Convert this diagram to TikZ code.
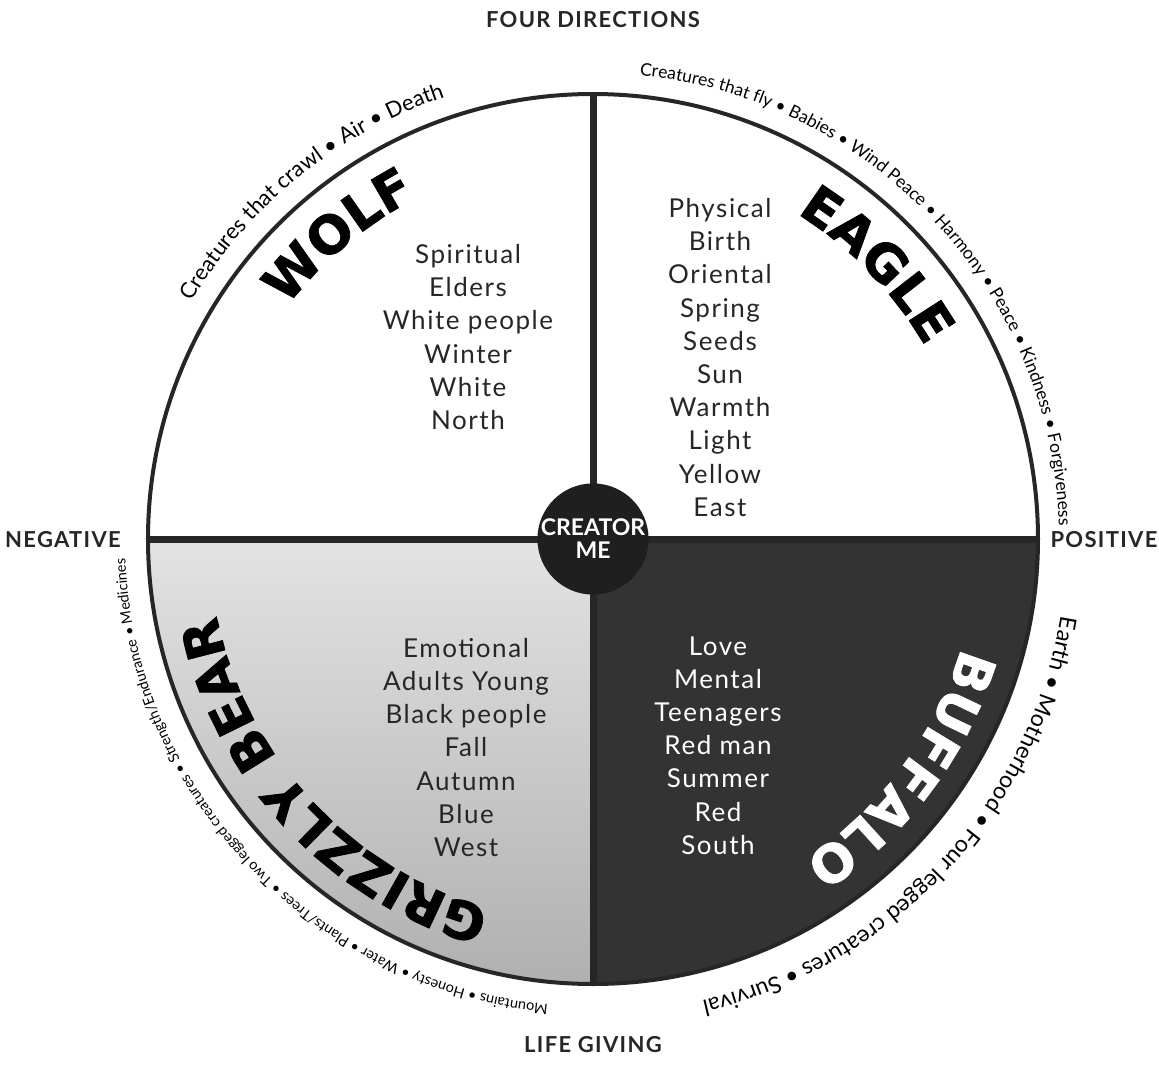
\documentclass[tikz,border=0pt]{standalone}
\usepackage{fontspec}
\setmainfont{Lato}
\newfontfamily\heavyfont[FakeBold=1.5]{DejaVu Sans}
\newfontfamily\listfont[LetterSpace=6]{Lato}
\usetikzlibrary{decorations.text, positioning}

\begin{document}
\begin{tikzpicture}[
  x=1pt, y=1pt,
  divider/.style={line width=7pt, black!85},
  rim/.style={line width=4pt, black!85},
  bearfill/.style={top color=gray!22, bottom color=gray!62},
  buffalofill/.style={fill=black!80},
  dirlbl/.style={font=\listfont\fontsize{22}{26}\selectfont\bfseries, text=black!85},
  attrlist/.style={font=\listfont\fontsize{26}{33.2}\selectfont, align=center, text=black!85},
  creator/.style={circle, fill=black!88, minimum size=110pt, inner sep=0pt,
                  text=white, align=center,
                  font=\fontsize{23}{23}\selectfont\bfseries},
  arcword/.style={decorate, decoration={text along path, text align=center,
                  text={#1}}}
]
\useasboundingbox (-593,-527) rectangle (566,539);

\coordinate (ctr) at (0,0);
\coordinate (rimN) at (90:445);
\coordinate (rimS) at (270:445);
\coordinate (rimW) at (180:445);
\coordinate (rimE) at (0:445);

\fill[bearfill] (ctr) -- (rimW) arc[start angle=180, end angle=270, radius=445] -- cycle;
\fill[buffalofill] (ctr) -- (rimS) arc[start angle=270, end angle=360, radius=445] -- cycle;
\draw[divider] (rimW) -- (rimE);
\draw[divider] (rimN) -- (rimS);
\draw[rim] (ctr) circle[radius=445];
\node[creator] (creator) at (ctr) {CREATOR\\ME};

\node[attrlist] (wolflist) at (-125,202)
  {Spiritual\\Elders\\White people\\Winter\\White\\North};
\node[attrlist] (eaglelist) at (127,181.5)
  {Physical\\Birth\\Oriental\\Spring\\Seeds\\Sun\\Warmth\\Light\\Yellow\\East};
\node[attrlist] (bearlist) at (-127,-208.5)
  {Emotional\\Adults Young\\Black people\\Fall\\Autumn\\Blue\\West};
\node[attrlist, text=white] (buffalolist) at (125,-206.5)
  {Love\\Mental\\Teenagers\\Red man\\Summer\\Red\\South};

\path[arcword={|\heavyfont\bfseries\fontsize{52}{52}\selectfont|WOLF}]
  (ctr) ++(175:384) arc[start angle=175, end angle=85, radius=384];
\path[arcword={|\heavyfont\bfseries\fontsize{52}{52}\selectfont|EAGLE}]
  (ctr) ++(89:384) arc[start angle=89, end angle=-1, radius=384];
\path[arcword={|\heavyfont\bfseries\fontsize{52}{52}\selectfont|GRIZZLY BEAR}]
  (ctr) ++(-92:384) arc[start angle=-92, end angle=-182, radius=384];
\path[arcword={|\heavyfont\bfseries\fontsize{52}{52}\selectfont\color{white}|BUFFALO}]
  (ctr) ++(8.4:384) arc[start angle=8.4, end angle=-81.6, radius=384];

\path[arcword={|\fontsize{22}{22}\selectfont|Creatures that crawl • Air • Death}]
  (ctr) ++(174:466) arc[start angle=174, end angle=84, radius=466];
\path[arcword={|\fontsize{17.5}{17.5}\selectfont|Creatures that fly • Babies • Wind Peace • Harmony • Peace • Kindness • Forgiveness}]
  (ctr) ++(88:466) arc[start angle=88, end angle=-2, radius=466];
\path[arcword={|\fontsize{23}{23}\selectfont|Earth • Motherhood • Four legged creatures • Survival}]
  (ctr) ++(2:474) arc[start angle=2, end angle=-88, radius=474];
\path[arcword={|\fontsize{14.5}{14.5}\selectfont|Mountains • Honesty • Water • Plants/Trees • Two legged creatures • Strength/Endurance • Medicines}]
  (ctr) ++(-91.5:468) arc[start angle=-91.5, end angle=-181.5, radius=468];

\node[dirlbl] (title) at (0,519) {FOUR DIRECTIONS};
\node[dirlbl] (lifegiving) at (0,-506) {LIFE GIVING};
\node[dirlbl] (negative) at (-530,-1) {NEGATIVE};
\node[dirlbl] (positive) at (511,-1) {POSITIVE};

\end{tikzpicture}
\end{document}
